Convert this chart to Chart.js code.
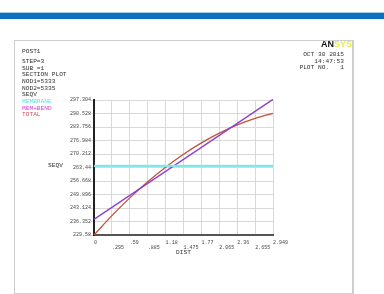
<!DOCTYPE html>
<html><head><meta charset="utf-8">
<script src="https://cdn.jsdelivr.net/npm/chart.js@4/dist/chart.umd.min.js"></script>
<style>
html,body{margin:0;padding:0;background:#fff;width:384px;height:294px;overflow:hidden;}
#wrap{position:relative;width:384px;height:294px;}
.t{position:absolute;font-family:"Liberation Mono","DejaVu Sans Mono",monospace;font-size:6.2px;line-height:6.2px;color:#333;white-space:pre;}
.r{text-align:right;}
#bar1{position:absolute;left:0;top:12px;width:384px;height:1px;background:#9fd3ee;}
#bar2{position:absolute;left:0;top:13px;width:384px;height:6px;background:#0a6fbd;}
#frame{position:absolute;left:14px;top:40px;width:337px;height:252px;border:1px solid #cfcfcf;border-right:2px solid #cfcfcf;}
canvas{position:absolute;left:0;top:0;}
</style></head>
<body><div id="wrap">
<div id="bar1"></div><div id="bar2"></div>
<div id="frame"></div>
<canvas id="c" width="384" height="294"></canvas>
<div class="t" style="left:22px;top:49px">POST1</div>
<div class="t" style="left:22px;top:59px">STEP=3</div>
<div class="t" style="left:22px;top:65.7px">SUB =1</div>
<div class="t" style="left:22px;top:72.3px">SECTION PLOT</div>
<div class="t" style="left:22px;top:79px">NOD1=5333</div>
<div class="t" style="left:22px;top:85.6px">NOD2=5335</div>
<div class="t" style="left:22px;top:92.3px">SEQV</div>
<div class="t" style="left:22px;top:99px;color:#62dede">MEMBRANE</div>
<div class="t" style="left:22px;top:105.6px;color:#d046d6">MEM+BEND</div>
<div class="t" style="left:22px;top:112.3px;color:#e0506a">TOTAL</div>
<div class="t" style="left:321px;top:40px;font-family:'Liberation Sans',Arial,sans-serif;font-weight:bold;font-size:9px;line-height:9px;"><span style="color:#111">AN</span><span style="color:#e4ec4c">SYS</span></div>
<div class="t r" style="right:40px;top:52px">OCT 30 2015</div>
<div class="t r" style="right:40px;top:58.6px">14:47:53</div>
<div class="t r" style="right:40px;top:65.3px">PLOT NO.   1</div>
<div class="t" style="left:48px;top:163px">SEQV</div>
<div class="t" style="left:176px;top:250px">DIST</div>
</div>
<script>
const xTickValues=[0,0.295,0.59,0.885,1.18,1.475,1.77,2.065,2.36,2.655,2.949];
const xTickLabels=['0','.295','.59','.885','1.18','1.475','1.77','2.065','2.36','2.655','2.949'];
const yTickValues=[229.58,236.352,243.124,249.896,256.668,263.44,270.212,276.984,283.756,290.528,297.304];
const yTickLabels=['229.58','236.352','243.124','249.896','256.668','263.44','270.212','276.984','283.756','290.528','297.304'];
const totalDist=[0,0.295,0.59,0.885,1.18,1.475,1.77,2.065,2.36,2.655,2.949];
const totalVals=[229.58,239.3,248.2,256.3,263.6,270.1,275.8,280.7,284.8,288.1,290.6];
const memBendDist=[0,2.949];
const memBendVals=[237.4,297.6];
const membraneDist=[0,2.949];
const membraneVals=[264.3,264.3];

const pts=(xs,ys)=>xs.map((x,i)=>({x:x,y:ys[i]}));
const tickFont={family:'"Liberation Mono","DejaVu Sans Mono",monospace',size:5};

new Chart(document.getElementById('c'),{
  type:'line',
  data:{datasets:[
    {label:'MEMBRANE',data:pts(membraneDist,membraneVals),borderColor:'#86e6e6',borderWidth:2.2,pointRadius:0,clip:false},
    {label:'MEM+BEND',data:pts(memBendDist,memBendVals),borderColor:'#8a40d4',borderWidth:1.3,pointRadius:0,clip:false},
    {label:'TOTAL',data:pts(totalDist,totalVals),borderColor:'#c4503c',borderWidth:1.3,pointRadius:0,cubicInterpolationMode:'monotone',clip:false}
  ]},
  options:{
    responsive:false,animation:false,devicePixelRatio:1,
    layout:{padding:{left:0,top:100,right:111,bottom:34}},
    plugins:{legend:{display:false},tooltip:{enabled:false}},
    scales:{
      x:{type:'linear',min:0,max:2.949,
        afterBuildTicks:s=>{s.ticks=xTickValues.map(v=>({value:v}));},
        afterFit:s=>{s.height=25;},
        grid:{color:'#d9d9d9',lineWidth:1,drawTicks:false},
        border:{color:'#555',width:2},
        ticks:{align:'start',padding:4.5,maxRotation:0,autoSkip:false,color:'#444',font:Object.assign({lineHeight:1.1},tickFont),
          callback:(v,i)=> i%2===1?['',xTickLabels[i]]:xTickLabels[i]}
      },
      y:{type:'linear',min:229.58,max:297.304,
        afterBuildTicks:s=>{s.ticks=yTickValues.map(v=>({value:v}));},
        afterFit:s=>{s.width=94;},
        grid:{color:'#d9d9d9',lineWidth:1,tickLength:3},
        border:{color:'#222',width:2},
        ticks:{padding:0,autoSkip:false,color:'#444',font:tickFont,callback:(v,i)=>yTickLabels[i]}
      }
    }
  }
});
</script>
</body></html>
